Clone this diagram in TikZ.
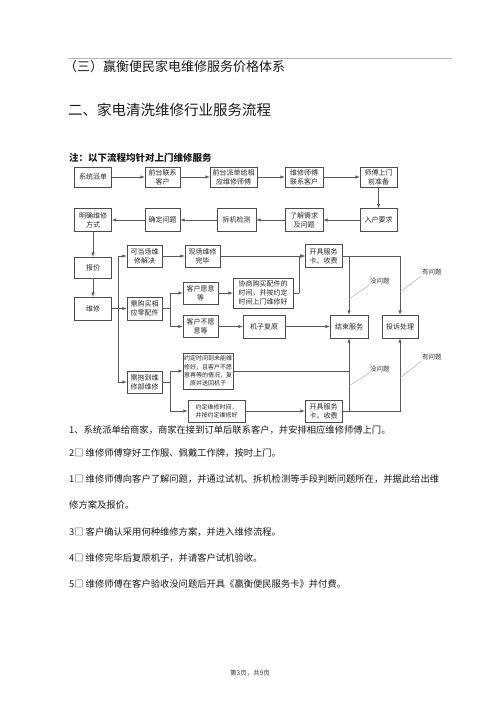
\documentclass[tikz,border=0pt]{standalone}
\usepackage{fontspec}
\setmainfont{Noto Sans CJK SC}
\usetikzlibrary{shapes,arrows,positioning,calc}

\begin{document}
\begin{tikzpicture}[
    x=1pt, y=-1pt,
    flowbox/.style={rectangle, draw=black!70, text=black!85, line width=0.5pt, align=center, inner sep=1pt, minimum height=22, font=\fontsize{7}{9}\selectfont},
    smallbox/.style={flowbox, font=\fontsize{6}{8.3}\selectfont},
    arrow/.style={-latex, draw=black!65, line width=0.5pt},
    link/.style={draw=black!65, line width=0.5pt},
    callout/.style={draw=black!35, line width=0.4pt},
    remark/.style={anchor=west, inner sep=1pt, text=black!80, font=\fontsize{6.5}{8}\selectfont},
    heading/.style={anchor=west, inner sep=0pt, text=black!90},
    para/.style={anchor=west, inner sep=0pt, text=black!90, font=\fontsize{9.3}{11}\selectfont}
]
\useasboundingbox (0,0) rectangle (500,707);

% page header
\draw[black!30, line width=0.6pt] (68,58) -- (452,58);
\node[heading, font=\fontsize{13}{15}\selectfont] (sec3) at (64,67) {（三）赢衡便民家电维修服务价格体系};
\node[heading, font=\fontsize{14.5}{16}\selectfont] (sec2) at (68,110) {二、家电清洗维修行业服务流程};
\node[heading, font=\fontsize{9.5}{11}\selectfont\bfseries] (hint) at (69,158) {注：以下流程均针对上门维修服务};

% first row
\node[flowbox, minimum width=37, minimum height=20] (sys) at (93,177) {系统派单};
\node[flowbox, minimum width=35, minimum height=20] (front) at (162.5,177) {前台联系\\客户};
\node[flowbox, minimum width=47, minimum height=20] (dispatch) at (233.5,177) {前台派单给相\\应维修师傅};
\node[flowbox, minimum width=38, minimum height=20] (call) at (304,177) {维修师傅\\联系客户};
\node[flowbox, minimum width=37, minimum height=20] (prep) at (378.5,177) {师傅上门\\前准备};

% second row
\node[flowbox, minimum width=37, minimum height=23] (enter) at (378.5,220) {入户要求};
\node[flowbox, minimum width=38, minimum height=23] (learn) at (304,220) {了解需求\\及问题};
\node[flowbox, minimum width=39, minimum height=23] (disasm) at (236.5,220) {拆机检测};
\node[flowbox, minimum width=35, minimum height=23] (confirm) at (162.5,220) {确定问题};
\node[flowbox, minimum width=37, minimum height=23] (plan) at (93,220) {明确维修\\方式};

% left column
\node[flowbox, minimum width=37, minimum height=21] (quote) at (93,267.5) {报价};
\node[flowbox, minimum width=37, minimum height=23] (repair) at (93,308.5) {维修};

% repair options
\node[flowbox, minimum width=35] (onsite) at (144.5,256) {可当场维\\修解决};
\node[flowbox, minimum width=35, minimum height=23] (parts) at (144.5,308.5) {需购买相\\应零配件};
\node[flowbox, minimum width=35] (tow) at (144.5,382) {需拖到维\\修部维修};

\node[flowbox, minimum width=35] (done) at (202.5,256) {现场维修\\完毕};
\node[flowbox, minimum width=35] (wait) at (200.5,293) {客户愿意\\等};
\node[flowbox, minimum width=35] (nowait) at (200.5,326.5) {客户不愿\\意等};
\node[flowbox, minimum width=60, minimum height=30] (agree) at (263,293) {协商购买配件的\\时间，并按约定\\时间上门维修好};
\node[flowbox, minimum width=42, minimum height=23] (restore) at (264,326.5) {机子复原};
\node[smallbox, minimum width=50, minimum height=36] (late) at (208,371) {约定时间到未能维\\修好，且客户不愿\\意再等的情况，复\\原并送回机子};
\node[smallbox, minimum width=57] (ontime) at (216.5,411) {约定维修时间，\\并按约定维修好};

% end of service
\node[flowbox, minimum width=37, minimum height=23] (card1) at (323.5,256) {开具服务\\卡、收费};
\node[flowbox, minimum width=38, minimum height=23] (finish) at (349,326.5) {结束服务};
\node[flowbox, minimum width=36, minimum height=23] (complain) at (400,326.5) {投诉处理};
\node[flowbox, minimum width=37] (card2) at (323.5,411) {开具服务\\卡、收费};

% main flow
\draw[arrow] (sys) -- (front);
\draw[arrow] (front) -- (dispatch);
\draw[arrow] (dispatch) -- (call);
\draw[arrow] (call) -- (prep);
\draw[arrow] (prep) -- (enter);
\draw[arrow] (enter) -- (learn);
\draw[arrow] (learn) -- (disasm);
\draw[arrow] (disasm) -- (confirm);
\draw[arrow] (confirm) -- (plan);
\draw[arrow] (plan) -- (quote);
\draw[arrow] (quote) -- (repair);

% repair branches
\coordinate (trunk) at (118,308.5);
\draw[arrow] (repair) -- (parts);
\draw[arrow] (trunk) |- (onsite);
\draw[arrow] (trunk) |- (tow);
\draw[arrow] (onsite) -- (done);
\draw[arrow] (done) -- (card1);

\coordinate (split1) at (170,308.5);
\draw[link] (parts) -- (split1);
\draw[arrow] (split1) |- (wait);
\draw[arrow] (split1) |- (nowait);
\draw[arrow] (wait) -- (agree);
\coordinate (merge1) at (299,293);
\draw[link] (agree) -- (merge1);
\draw[arrow] (merge1) |- (card1);
\draw[arrow] (nowait) -- (restore);
\draw[arrow] (restore) -- (finish);

\coordinate (split2) at (170,382);
\draw[link] (tow) -- (split2);
\draw[arrow] (split2) |- (late);
\draw[arrow] (split2) |- (ontime);
\draw[arrow] (ontime) -- (card2);
\draw[link] (late) -- (late -| finish);

% after the service card
\draw[arrow] (card1) -| (complain);
\draw[arrow] (card1 -| finish) -- (finish);
\draw[arrow] (card2) -| (complain);
\draw[arrow] (card2 -| finish) -- (finish);

% remarks
\node[remark] (ok1) at (369,281) {没问题};
\node[remark] (bad1) at (421,272) {有问题};
\node[remark] (ok2) at (369,369) {没问题};
\node[remark] (bad2) at (421,357) {有问题};
\coordinate (ok1foot) at (349,299);
\coordinate (bad1foot) at (400,292);
\coordinate (ok2foot) at (349,386);
\coordinate (bad2foot) at (400,378);
\draw[callout] (ok1foot) -- (ok1.south west) -- (ok1.north west) -- ++(2.5,0);
\draw[callout] (bad1foot) -- (bad1.south west) -- (bad1.north west) -- ++(2.5,0);
\draw[callout] (ok2foot) -- (ok2.south west) -- (ok2.north west) -- ++(2.5,0);
\draw[callout] (bad2foot) -- (bad2.south west) -- (bad2.north west) -- ++(2.5,0);

% steps text
\node[para] (line1) at (69,430) {1、系统派单给商家，商家在接到订单后联系客户，并安排相应维修师傅上门。};
\node[para] (line2) at (69,453) {2□ 维修师傅穿好工作服、佩戴工作牌，按时上门。};
\node[para] (line3) at (69,479) {1□ 维修师傅向客户了解问题，并通过试机、拆机检测等手段判断问题所在，并据此给出维};
\node[para] (line4) at (69,505) {修方案及报价。};
\node[para] (line5) at (69,532) {3□ 客户确认采用何种维修方案，并进入维修流程。};
\node[para] (line6) at (69,558) {4□ 维修完毕后复原机子，并请客户试机验收。};
\node[para] (line7) at (69,584) {5□ 维修师傅在客户验收没问题后开具《赢衡便民服务卡》并付费。};

% footer
\node[font=\fontsize{6.5}{8}\selectfont, text=black!80] (pageno) at (250,673) {第3页，共9页};
\end{tikzpicture}
\end{document}
